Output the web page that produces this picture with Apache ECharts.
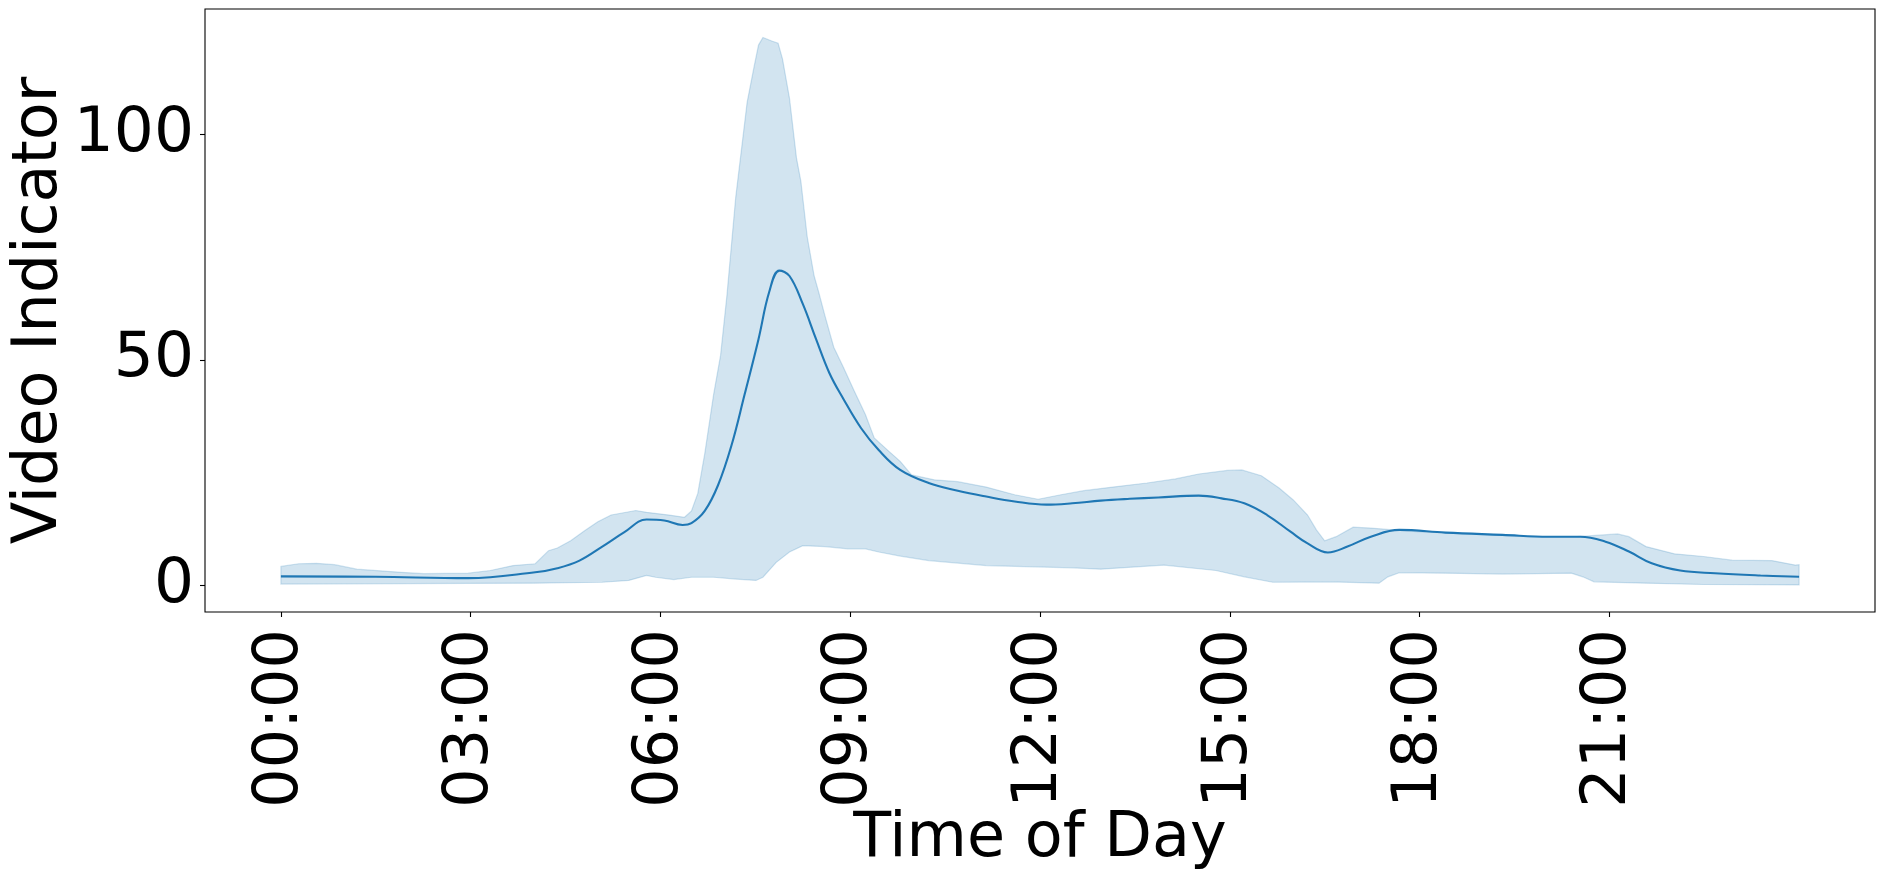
<!DOCTYPE html>
<html>
<head>
<meta charset="utf-8">
<script src="https://cdn.jsdelivr.net/npm/echarts@6/dist/echarts.min.js"></script>
<style>
html,body{margin:0;padding:0;background:#fff;}
#chart{width:1885px;height:878px;}
</style>
</head>
<body>
<div id="chart"></div>
<script>
// Time of day in hours
const meanHours = [0, 1.5, 2.96, 4.02, 4.37, 4.72, 5.08, 5.43, 5.78, 6.06, 6.35, 6.49, 6.70, 6.91, 7.12, 7.33, 7.55, 7.72, 7.88, 8.04, 8.25, 8.46, 8.67, 8.89, 9.17, 9.45, 9.79, 10.24, 10.70, 11.15, 11.60, 12.10, 12.51, 12.96, 13.42, 13.87, 14.51, 14.87, 15.23, 15.59, 15.96, 16.23, 16.55, 16.86, 17.23, 17.68, 18.41, 19.31, 20.04, 20.54, 20.94, 21.31, 21.67, 22.12, 22.67, 23.39, 24.0];
const meanValues = [2.0, 1.9, 1.6, 2.9, 3.8, 5.5, 8.6, 11.8, 14.6, 14.4, 13.4, 13.8, 16.5, 22.2, 30.9, 42.3, 54.6, 65.1, 69.8, 68.6, 62.4, 54.6, 47.1, 41.4, 34.9, 30.0, 25.6, 22.7, 21.0, 19.7, 18.6, 17.9, 18.2, 18.8, 19.2, 19.5, 19.9, 19.3, 18.2, 15.6, 11.9, 9.3, 7.3, 8.6, 10.8, 12.3, 11.7, 11.2, 10.8, 10.8, 9.7, 7.5, 4.9, 3.3, 2.7, 2.2, 1.9];

const upperHours = [0, 0.28, 0.56, 0.85, 1.20, 1.90, 2.26, 2.96, 3.31, 3.67, 4.02, 4.23, 4.37, 4.58, 4.80, 5.01, 5.22, 5.61, 5.78, 6.14, 6.38, 6.49, 6.59, 6.70, 6.84, 6.95, 7.05, 7.19, 7.37, 7.48, 7.55, 7.62, 7.76, 7.86, 7.93, 8.04, 8.15, 8.22, 8.32, 8.43, 8.50, 8.60, 8.74, 8.89, 9.06, 9.24, 9.38, 9.59, 9.79, 9.97, 10.33, 10.70, 11.15, 11.60, 11.97, 12.33, 12.69, 13.15, 13.69, 14.14, 14.51, 14.96, 15.19, 15.50, 15.78, 16.00, 16.23, 16.37, 16.50, 16.68, 16.95, 17.23, 17.95, 18.86, 19.77, 20.49, 21.13, 21.31, 21.58, 22.03, 22.49, 22.94, 23.57, 23.94, 24.0];
const upperValues = [4.2, 4.8, 4.9, 4.6, 3.6, 2.9, 2.6, 2.7, 3.3, 4.4, 4.8, 7.7, 8.3, 9.9, 12.1, 14.1, 15.6, 16.6, 16.2, 15.6, 15.1, 16.5, 20.4, 29.2, 42.3, 51.0, 64.2, 86.1, 107.1, 115.0, 119.8, 121.5, 120.7, 120.2, 116.7, 108.0, 94.8, 89.6, 77.3, 68.6, 65.1, 59.8, 52.8, 48.4, 43.2, 37.9, 32.7, 30.0, 27.5, 24.5, 23.4, 23.0, 21.8, 20.1, 19.1, 20.1, 21.0, 21.8, 22.7, 23.6, 24.7, 25.5, 25.6, 24.3, 21.6, 19.0, 15.6, 12.3, 9.9, 10.8, 12.9, 12.7, 11.9, 11.4, 10.8, 10.8, 11.4, 10.8, 8.6, 7.0, 6.4, 5.6, 5.5, 4.5, 4.6];

const lowerHours = [0, 2.0, 4.0, 5.08, 5.50, 5.78, 5.92, 6.21, 6.49, 6.84, 7.19, 7.51, 7.62, 7.83, 8.04, 8.25, 8.60, 8.96, 9.24, 9.45, 9.79, 10.24, 11.15, 12.51, 12.96, 13.96, 14.78, 15.23, 15.68, 16.59, 17.36, 17.50, 17.68, 18.41, 19.31, 20.40, 20.58, 20.76, 21.58, 22.49, 24.0];
const lowerValues = [0.3, 0.4, 0.5, 0.7, 1.1, 2.2, 1.8, 1.3, 1.8, 1.8, 1.4, 1.1, 1.8, 5.1, 7.4, 8.8, 8.6, 8.1, 8.1, 7.4, 6.5, 5.5, 4.4, 3.9, 3.6, 4.5, 3.3, 1.9, 0.7, 0.8, 0.5, 1.9, 2.8, 2.7, 2.5, 2.7, 1.9, 0.8, 0.5, 0.2, 0.1];

const xTickHours = [0, 3, 6, 9, 12, 15, 18, 21];
const yTickValues = [0, 50, 100];

const FONT = 'DejaVu Sans';
const chart = echarts.init(document.getElementById('chart'), null, {renderer: 'canvas'});

const meanData = meanHours.map((h, i) => [h, meanValues[i]]);

chart.setOption({
  animation: false,
  backgroundColor: '#ffffff',
  grid: {
    left: 205, right: 10, top: 9, bottom: 266,
    containLabel: false,
    outerBoundsMode: 'none',
    show: true, borderColor: '#000000', borderWidth: 1.1, backgroundColor: 'transparent'
  },
  xAxis: {
    type: 'value',
    min: -1.2, max: 25.2,
    name: 'Time of Day',
    nameLocation: 'middle',
    nameGap: 197,
    nameMoveOverlap: false,
    nameTextStyle: {fontFamily: FONT, fontSize: 62, color: '#000'},
    axisLine: {show: false, onZero: false},
    splitLine: {show: false},
    axisTick: {show: true, customValues: xTickHours, length: 5, lineStyle: {color: '#000', width: 1.1}},
    axisLabel: {
      customValues: xTickHours,
      rotate: 90,
      margin: 17,
      fontFamily: FONT, fontSize: 62, color: '#000',
      formatter: v => String(Math.round(v)).padStart(2, '0') + ':00'
    }
  },
  yAxis: {
    type: 'value',
    min: -5.9, max: 127.8,
    name: 'Video Indicator',
    nameLocation: 'middle',
    nameRotate: 90,
    nameGap: 134,
    nameMoveOverlap: false,
    nameTextStyle: {fontFamily: FONT, fontSize: 62, color: '#000'},
    axisLine: {show: false, onZero: false},
    splitLine: {show: false},
    axisTick: {show: true, customValues: yTickValues, length: 5, lineStyle: {color: '#000', width: 1.1}},
    axisLabel: {
      customValues: yTickValues,
      margin: 11,
      padding: [12, 0, 0, 0],
      fontFamily: FONT, fontSize: 63, color: '#000'
    }
  },
  series: [
    {
      type: 'custom',
      coordinateSystem: 'cartesian2d',
      silent: true,
      z: 1,
      data: [[0, 0]],
      renderItem: function (params, api) {
        const pts = [];
        for (let i = 0; i < upperHours.length; i++) pts.push(api.coord([upperHours[i], upperValues[i]]));
        for (let i = lowerHours.length - 1; i >= 0; i--) pts.push(api.coord([lowerHours[i], lowerValues[i]]));
        return {
          type: 'polygon',
          shape: {points: pts},
          style: {fill: 'rgba(31,119,180,0.2)', stroke: 'rgba(31,119,180,0.2)', lineWidth: 1.2}
        };
      }
    },
    {
      type: 'line',
      z: 2,
      data: meanData,
      showSymbol: false,
      smooth: 0.4,
      lineStyle: {color: '#1f77b4', width: 2.1},
      itemStyle: {color: '#1f77b4'}
    }
  ]
});
</script>
</body>
</html>
